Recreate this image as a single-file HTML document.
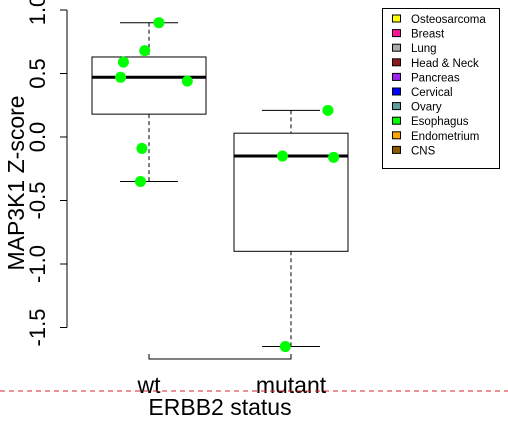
<!DOCTYPE html>
<html><head><meta charset="utf-8"><style>
body{margin:0;background:#fff;}
svg{display:block;font-family:"Liberation Sans",Arial,sans-serif;}
</style></head><body>
<svg id="c" width="508" height="432"></svg>
<script>
const categories=["wt","mutant"];
const boxLow=[0.18,-0.90];
const boxMed=[0.47,-0.15];
const boxHigh=[0.63,0.03];
const whiskLow=[-0.35,-1.65];
const whiskHigh=[0.90,0.21];
const ptGroup=[0,0,0,0,0,0,0,1,1,1,1];
const ptValue=[0.90,0.68,0.59,0.47,0.44,-0.09,-0.35,0.21,-0.15,-0.16,-1.65];
const ptJitter=[0.07,-0.03,-0.18,-0.2,0.27,-0.05,-0.06,0.26,-0.06,0.3,-0.04];
const yTicks=[1.0,0.5,0.0,-0.5,-1.0,-1.5];
const yTickLabels=["1.0","0.5","0.0","-0.5","-1.0","-1.5"];
const legendLabels=["Osteosarcoma","Breast","Lung","Head & Neck","Pancreas","Cervical","Ovary","Esophagus","Endometrium","CNS"];
const legendColors=["#ffff00","#ff1493","#a9a9a9","#8b1a1a","#a020f0","#0000ff","#5f9ea0","#00ff00","#ffa500","#8b5a00"];

const NS="http://www.w3.org/2000/svg";
const svg=document.getElementById('c');
const y=v=>137-v*127;
const x=i=>149+i*142;
function mk(t,a,p){const e=document.createElementNS(NS,t);for(const k in a)e.setAttribute(k,a[k]);(p||svg).appendChild(e);return e;}

let ax=mk('line',{x1:67,x2:67,y1:y(1.0),y2:y(-1.5),stroke:'#000'});


yTicks.forEach((t,i)=>{
  const l=mk('line',{x1:60,x2:67,y1:y(t),y2:y(t),stroke:'#000'});
  
  
  const tx=mk('text',{x:0,y:0,'font-size':22,'text-anchor':'middle',transform:`translate(45,${y(t)}) rotate(-90)`});
  tx.textContent=yTickLabels[i];
  
  
});
let yt=mk('text',{x:0,y:0,'font-size':23,'text-anchor':'middle',transform:'translate(24,183) rotate(-90)'});
yt.textContent='MAP3K1 Z-score';



let xa=mk('path',{d:`M${x(0)} 354V359H${x(1)}V354`,stroke:'#000',fill:'none'});


categories.forEach((c,i)=>{
  const t=mk('text',{x:x(i),y:393,'font-size':23,'text-anchor':'middle'});
  t.textContent=c;
  
  
});
let xt=mk('text',{x:220,y:415,'font-size':23,'text-anchor':'middle'});
xt.textContent='ERBB2 status';



let dl=mk('line',{x1:0,x2:508,y1:391,y2:391,stroke:'#d62728','stroke-dasharray':'5,4','stroke-width':1});



categories.forEach((c,i)=>{
  const cx=x(i);
  const g=mk('g',{});
  
  
  mk('line',{x1:cx,x2:cx,y1:y(whiskHigh[i]),y2:y(boxHigh[i]),stroke:'#000','stroke-dasharray':'4,3'},g);
  mk('line',{x1:cx,x2:cx,y1:y(boxLow[i]),y2:y(whiskLow[i]),stroke:'#000','stroke-dasharray':'4,3'},g);
  mk('line',{x1:cx-29,x2:cx+29,y1:y(whiskHigh[i]),y2:y(whiskHigh[i]),stroke:'#000'},g);
  mk('line',{x1:cx-29,x2:cx+29,y1:y(whiskLow[i]),y2:y(whiskLow[i]),stroke:'#000'},g);
  mk('rect',{x:cx-57,y:y(boxHigh[i]),width:114,height:y(boxLow[i])-y(boxHigh[i]),fill:'none',stroke:'#000'},g);
  mk('line',{x1:cx-57,x2:cx+57,y1:y(boxMed[i]),y2:y(boxMed[i]),stroke:'#000','stroke-width':3},g);
});

ptValue.forEach((v,i)=>{
  const p=mk('circle',{cx:x(ptGroup[i])+ptJitter[i]*142,cy:y(v),r:5.5,fill:'#00ff00'});
  
  
});

const lg=mk('g',{});


mk('rect',{x:382.5,y:8.5,width:117,height:160,fill:'#fff',stroke:'#000'},lg);
legendLabels.forEach((l,i)=>{
  const yy=19+i*14.6;
  const e=mk('g',{},lg);
  
  
  mk('rect',{x:392.5,y:yy-4,width:8,height:7,fill:legendColors[i],stroke:'#000'},e);
  const t=mk('text',{x:411,y:yy+4,'font-size':11.5},e);
  t.textContent=l;
});
</script>
</body></html>
